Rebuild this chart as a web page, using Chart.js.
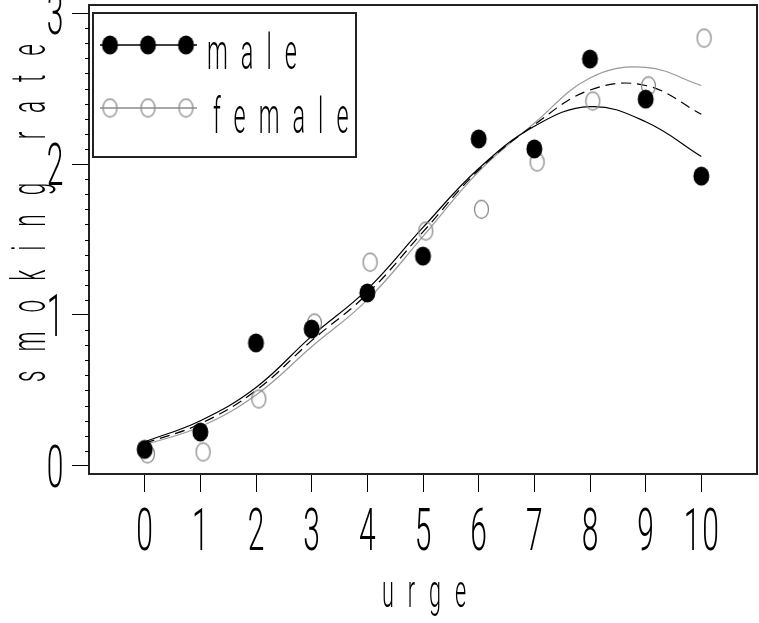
<!DOCTYPE html>
<html>
<head>
<meta charset="utf-8">
<script src="https://cdn.jsdelivr.net/npm/chart.js@4"></script>
<style>
  html, body { margin: 0; padding: 0; background: #fff; }
  #wrap { width: 759px; height: 623px; }
</style>
</head>
<body>
<div id="wrap"><canvas id="chart" width="759" height="623"></canvas></div>
<script>
// observed rates by urge level
const urge = [0, 1, 2, 3, 4, 5, 6, 7, 8, 9, 10];
const maleRate = [0.11, 0.225, 0.815, 0.907, 1.146, 1.39, 2.166, 2.10, 2.695, 2.43, 1.92];
const femaleUrge = [0.05, 1.05, 2.05, 3.05, 4.05, 5.05, 6.05, 7.05, 8.05, 9.05, 10.05];
const femaleRate = [0.08, 0.093, 0.444, 0.947, 1.35, 1.556, 1.70, 2.013, 2.417, 2.517, 2.834];

// fitted curves
const fitMale = [0.16, 0.30, 0.52, 0.86, 1.17, 1.58, 1.97, 2.25, 2.38, 2.28, 2.05];
const fitPooled = [0.15, 0.28, 0.50, 0.83, 1.14, 1.55, 1.96, 2.26, 2.49, 2.52, 2.33];
const fitFemale = [0.14, 0.26, 0.47, 0.79, 1.10, 1.52, 1.95, 2.27, 2.57, 2.64, 2.52];

const xTickLabels = ["0", "1", "2", "3", "4", "5", "6", "7", "8", "9", "10"];
const yTickLabels = ["0", "1", "2", "3"];

const GRAY = "#8a8a8a";
const FONT = 'Roboto, "DejaVu Sans", sans-serif';

function ellipseMark(w, h, fill, stroke) {
  const c = document.createElement("canvas");
  c.width = w + 3; c.height = h + 3;
  const g = c.getContext("2d");
  g.beginPath();
  g.ellipse(c.width / 2, c.height / 2, w / 2, h / 2, 0, 0, Math.PI * 2);
  if (fill) { g.fillStyle = fill; g.fill(); }
  if (stroke) { g.strokeStyle = stroke; g.lineWidth = 1.3; g.stroke(); }
  return c;
}
const dotMale = ellipseMark(16, 19, "#000", null);
const dotFemale = ellipseMark(14, 18, null, GRAY);

const pts = (xs, ys) => xs.map((x, i) => ({ x: x, y: ys[i] }));

// tall, narrow, spaced-out lettering like the plotter font
function plotText(ctx, str, x, y, o) {
  ctx.save();
  ctx.translate(x, y);
  if (o.rotate) ctx.rotate(-Math.PI / 2);
  ctx.scale(o.sx, 1);
  ctx.font = "300 " + o.size + "px " + FONT;
  ctx.letterSpacing = (o.gap / o.sx) + "px";
  ctx.fillStyle = "#000";
  ctx.textAlign = o.align || "center";
  ctx.textBaseline = "alphabetic";
  const shift = o.align === "left" ? 0 : o.gap / o.sx / 2;
  ctx.fillText(str, shift, 0);
  ctx.restore();
}

const decor = {
  id: "decor",
  afterDraw(chart) {
    const { ctx, chartArea: a, scales } = chart;
    const xs = scales.x, ys = scales.y;

    // plot frame
    ctx.save();
    ctx.strokeStyle = "#222";
    ctx.lineWidth = 2;
    ctx.strokeRect(a.left, a.top, a.right - a.left, a.bottom - a.top);

    // minor y ticks every 0.1
    ctx.lineWidth = 1;
    ctx.strokeStyle = "#000";
    for (let i = 1; i < 30; i++) {
      if (i % 10 === 0) continue;
      const py = Math.round(ys.getPixelForValue(i / 10)) + 0.5;
      ctx.beginPath();
      ctx.moveTo(a.left - 4, py);
      ctx.lineTo(a.left, py);
      ctx.stroke();
    }
    ctx.restore();

    // tick labels
    xTickLabels.forEach(t => {
      plotText(ctx, t, xs.getPixelForValue(Number(t)), 550, { size: 60, sx: 0.5, gap: 2 });
    });
    yTickLabels.forEach(t => {
      plotText(ctx, t, 55, ys.getPixelForValue(Number(t)) + 21, { size: 60, sx: 0.5, gap: 2 });
    });

    // axis titles
    plotText(ctx, "urge", 424, 607, { size: 46, sx: 0.47, gap: 14 });
    plotText(ctx, "smoking rate", 45, 213, { size: 48, sx: 0.47, gap: 19, rotate: true });

    // legend
    ctx.save();
    ctx.strokeStyle = "#222";
    ctx.lineWidth = 2;
    ctx.strokeRect(93, 13, 263, 144);
    const rows = [
      { label: chart.data.datasets[0].label, y: 45, color: "#000", mark: dotMale, tx: 207, ty: 69 },
      { label: chart.data.datasets[1].label, y: 108, color: GRAY, mark: dotFemale, tx: 213, ty: 133 }
    ];
    rows.forEach(r => {
      ctx.strokeStyle = r.color;
      ctx.lineWidth = 1.3;
      ctx.beginPath();
      ctx.moveTo(100, r.y);
      ctx.lineTo(197, r.y);
      ctx.stroke();
      [110, 148, 186].forEach(cx => {
        ctx.drawImage(r.mark, cx - r.mark.width / 2, r.y - r.mark.height / 2);
      });
      plotText(ctx, r.label, r.tx, r.ty, { size: 50, sx: 0.47, gap: 13, align: "left" });
    });
    ctx.restore();
  }
};

const tickColor = ctx => (ctx.tick && ctx.tick.value >= 0 && ctx.tick.value <= 10) ? "#000" : "rgba(0,0,0,0)";

new Chart(document.getElementById("chart"), {
  type: "scatter",
  data: {
    datasets: [
      {
        label: "male",
        data: pts(urge, maleRate),
        pointStyle: dotMale,
        pointRadius: 9,
        showLine: false
      },
      {
        label: "female",
        data: pts(femaleUrge, femaleRate),
        pointStyle: dotFemale,
        pointRadius: 9,
        showLine: false
      },
      {
        label: "male fit",
        data: pts(urge, fitMale),
        showLine: true,
        borderColor: "#000",
        borderWidth: 1.2,
        pointRadius: 0,
        tension: 0.4
      },
      {
        label: "pooled fit",
        data: pts(urge, fitPooled),
        showLine: true,
        borderColor: "#000",
        borderWidth: 1.2,
        borderDash: [10, 6],
        pointRadius: 0,
        tension: 0.4
      },
      {
        label: "female fit",
        data: pts(urge, fitFemale),
        showLine: true,
        borderColor: "#999",
        borderWidth: 1.2,
        pointRadius: 0,
        tension: 0.4
      }
    ]
  },
  options: {
    responsive: false,
    animation: false,
    devicePixelRatio: 1,
    layout: { autoPadding: false, padding: { top: 5, right: 2, left: 0, bottom: 0 } },
    plugins: {
      legend: { display: false },
      tooltip: { enabled: false }
    },
    scales: {
      x: {
        type: "linear",
        min: -1,
        max: 11,
        afterFit(s) { s.height = 149; },
        border: { display: false },
        ticks: { display: false, stepSize: 1 },
        grid: { drawOnChartArea: false, tickLength: 18, color: tickColor, lineWidth: 1 }
      },
      y: {
        min: -0.053,
        max: 3.053,
        afterFit(s) { s.width = 89; },
        border: { display: false },
        ticks: { display: false, stepSize: 1, includeBounds: false },
        grid: { drawOnChartArea: false, tickLength: 17, color: "#000", lineWidth: 1 }
      }
    }
  },
  plugins: [decor]
});
</script>
</body>
</html>
